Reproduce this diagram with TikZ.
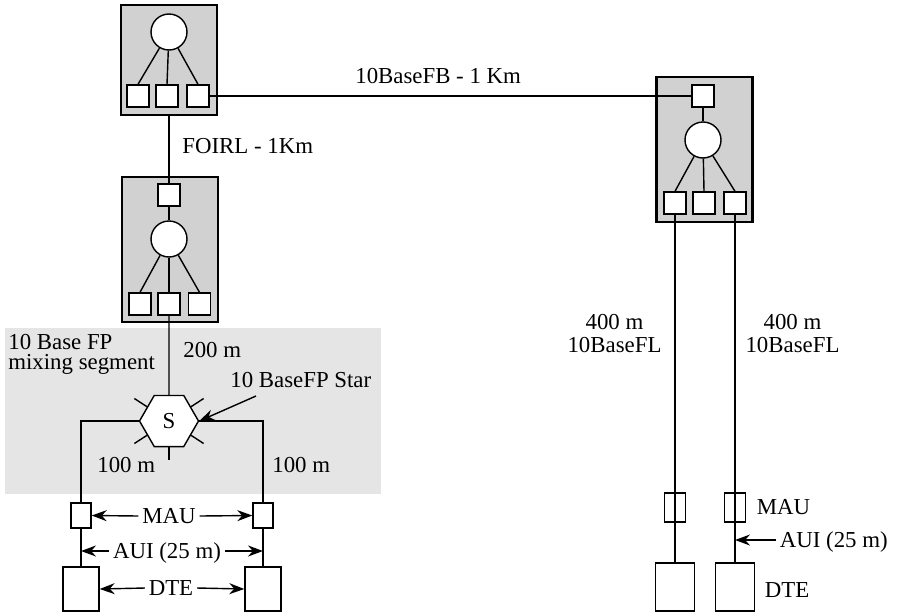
\documentclass[tikz,border=0pt]{standalone}
\usepackage{fontspec}
\setmainfont{Liberation Serif}
\usetikzlibrary{arrows.meta,shapes.geometric,positioning,calc}
\newcommand{\lblfont}{\fontsize{13}{13}\selectfont}

\begin{document}
\begin{tikzpicture}[x=0.02cm, y=-0.02cm,
    repeater/.style={draw, line width=1.4pt, fill=black!18, minimum width=1.92cm, inner sep=0},
    port/.style={draw, line width=0.8pt, fill=white, minimum size=0.44cm, inner sep=0},
    hub/.style={circle, draw, line width=0.8pt, fill=white, minimum size=0.72cm, inner sep=0},
    starhub/.style={regular polygon, regular polygon sides=6, draw, line width=0.8pt,
      fill=white, minimum size=1.18cm, inner sep=0, font=\lblfont},
    mau/.style={draw, line width=0.8pt, minimum width=0.4cm, minimum height=0.5cm, inner sep=0},
    dte/.style={draw, line width=0.8pt, fill=white, minimum width=0.72cm, minimum height=0.88cm, inner sep=0},
    lbl/.style={font=\lblfont, inner sep=0},
    dimlbl/.style={lbl, inner xsep=2pt, text height=8.5pt, text depth=0pt},
    link/.style={line width=0.8pt},
    dim/.style={-{Stealth[length=3mm, width=2.2mm]}, line width=0.8pt},
  ]
  \useasboundingbox (0,0) rectangle (899,613);

  % mixing segment
  \fill[black!10] (5,328) rectangle (381,494);

  % repeaters
  \node[repeater, minimum height=2.2cm] (ra) at (169,60) {};
  \node[hub] (ra-hub) at (169,32) {};
  \node[port] (ra-p1) at (138,96) {};
  \node[port] (ra-p2) at (167,96) {};
  \node[port] (ra-p3) at (198,96) {};

  \node[repeater, minimum height=2.9cm] (rb) at (170,249.5) {};
  \node[port] (rb-top) at (169,195) {};
  \node[hub] (rb-hub) at (169,239) {};
  \node[port] (rb-p1) at (140,304) {};
  \node[port] (rb-p2) at (169,304) {};
  \node[port] (rb-p3) at (199.5,304) {};

  \node[repeater, minimum height=2.9cm] (rc) at (704.5,149.5) {};
  \node[port] (rc-top) at (703,96) {};
  \node[hub] (rc-hub) at (703,140) {};
  \node[port] (rc-p1) at (675,203) {};
  \node[port] (rc-p2) at (704,203) {};
  \node[port] (rc-p3) at (735,203) {};

  % star
  \node[starhub] (star) at (169,421) {S};

  % stations
  \node[mau] (lmau1) at (81,515.5) {};
  \node[mau] (lmau2) at (263,515.5) {};
  \node[dte] (ldte1) at (81,589) {};
  \node[dte] (ldte2) at (263,589) {};
  \node[mau, minimum width=0.42cm, minimum height=0.58cm] (rmau1) at (675,507.5) {};
  \node[mau, minimum width=0.42cm, minimum height=0.58cm] (rmau2) at (735,507.5) {};
  \node[dte, minimum width=0.78cm, minimum height=0.96cm] (rdte1) at (675,587) {};
  \node[dte, minimum width=0.78cm, minimum height=0.96cm] (rdte2) at (735,587) {};

  % inside the repeaters
  \foreach \p in {p1,p2,p3} {
    \draw[link] (ra-hub) -- (ra-\p.north);
    \draw[link] (rb-hub) -- (rb-\p.north);
    \draw[link] (rc-hub) -- (rc-\p.north);
  }
  \draw[link] (rb-top) -- (rb-hub);
  \draw[link] (rc-top) -- (rc-hub);

  % links
  \draw[link] (ra-p3.east) -- (rc-top.west);
  \draw[link] (ra.south) -- (rb-top.north);
  \draw[link] (rb-p2.south) -- (star.north);
  \draw[link] (star.180) -| (lmau1.north);
  \draw[link] (star.0) -| (lmau2.north);
  \draw[link] (lmau1.south) -- (ldte1.north);
  \draw[link] (lmau2.south) -- (ldte2.north);
  \draw[link] (rc-p1.south) -- (rdte1.north);
  \draw[link] (rc-p3.south) -- (rdte2.north);
  \foreach \a in {33,147,213,327}
    \draw[link] (star.\a) -- ++(\a:0.3cm);
  \draw[link] (star.270) -- ++(270:0.26cm);

  % labels
  \node[lbl, anchor=base west] (fb-lbl) at (355,83) {10BaseFB - 1 Km};
  \node[lbl, anchor=base west] (foirl-lbl) at (182,153) {FOIRL - 1Km};
  \node[lbl, anchor=north west, align=left] (seg-lbl) at (8,334) {10 Base FP\\[-1.5pt]mixing segment};
  \node[lbl, anchor=base west] (fp-lbl) at (183,357) {200 m};
  \node[lbl, anchor=base west] (star-lbl) at (230,387) {10 BaseFP Star};
  \coordinate (star-tail) at (256,396);
  \draw[dim] (star-tail) -- (star.east);
  \node[lbl, anchor=base west] (l100-lbl) at (97,472) {100 m};
  \node[lbl, anchor=base west] (r100-lbl) at (272,472) {100 m};
  \node[lbl, anchor=north, align=center] (fl1-lbl) at (614.5,314) {400 m\\10BaseFL};
  \node[lbl, anchor=north, align=center] (fl2-lbl) at (792.5,314) {400 m\\10BaseFL};

  % left stations
  \node[dimlbl] (lmau-lbl) at (169,516) {MAU};
  \draw[dim] (lmau-lbl.west) -- (lmau1.east);
  \draw[dim] (lmau-lbl.east) -- (lmau2.west);
  \node[dimlbl] (laui-lbl) at (167,551) {AUI (25 m)};
  \draw[dim] (laui-lbl.west) -- (laui-lbl.west -| lmau1);
  \draw[dim] (laui-lbl.east) -- (laui-lbl.east -| lmau2);
  \node[dimlbl] (ldte-lbl) at (171,588) {DTE};
  \draw[dim] (ldte-lbl.west) -- (ldte1.east);
  \draw[dim] (ldte-lbl.east) -- (ldte2.west);

  % right stations
  \node[dimlbl, anchor=west] (rmau-lbl) at (753,507) {MAU};
  \node[dimlbl, anchor=west] (raui-lbl) at (776,540) {AUI (25 m)};
  \draw[dim] (raui-lbl.west) -- (raui-lbl.west -| rdte2);
  \node[dimlbl, anchor=west] (rdte-lbl) at (761,590) {DTE};
\end{tikzpicture}
\end{document}
